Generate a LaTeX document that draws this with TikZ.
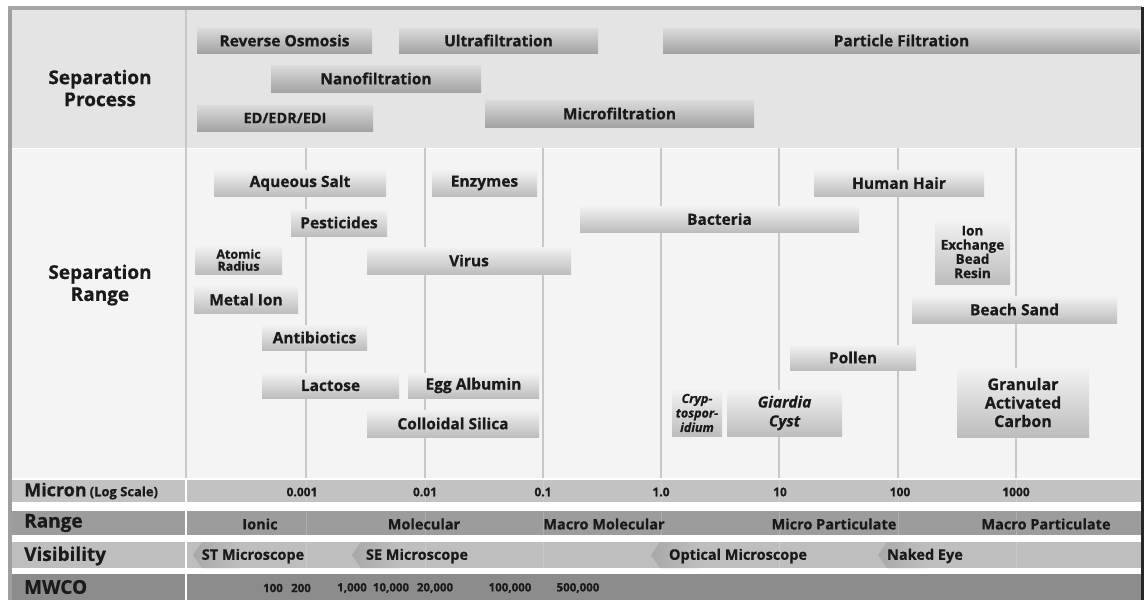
\documentclass[tikz,border=0pt]{standalone}
\usepackage{fontspec}
\setmainfont{Open Sans}[BoldFeatures={FakeBold=0.6},BoldItalicFeatures={FakeBold=0.6}]
\definecolor{procbg}{HTML}{E4E4E4}
\definecolor{rangebg}{HTML}{F4F4F4}
\definecolor{micband}{HTML}{C2C2C2}
\definecolor{rngband}{HTML}{9C9C9C}
\definecolor{visband}{HTML}{BEBEBE}
\definecolor{mwband}{HTML}{8C8C8C}
\definecolor{txt}{HTML}{1A1A1A}
\definecolor{gridc}{HTML}{C8C8C8}
\tikzset{
  lbl/.style={font=\bfseries\fontsize{15.5}{18}\selectfont, text=txt, inner sep=0pt, align=center},
  pbar/.style={lbl, top color=gray!28, bottom color=gray!72, draw=none},
  rbar/.style={lbl, top color=gray!10, bottom color=gray!52, draw=none},
  bandtxt/.style={font=\bfseries\fontsize{14.5}{16}\selectfont, text=txt, inner sep=0pt},
  mictxt/.style={font=\bfseries\fontsize{12}{14}\selectfont, text=txt, inner sep=0pt},
  sidetxt/.style={font=\bfseries\fontsize{19}{21}\selectfont, text=txt, inner sep=0pt, anchor=west},
  mwtxt/.style={font=\bfseries\fontsize{11.5}{13}\selectfont, text=txt, inner sep=0pt},
  gridline/.style={draw=gridc, line width=1.4pt},
  bandgrid/.style={draw=white, line width=1pt, opacity=0.18},
  chev/.style={left color=gray!68, right color=visband, draw=none},
}
% #1 extra, #2 style, #3 name, #4 x1, #5 y1, #6 x2, #7 y2, #8 text
\newcommand\gbox[8][]{\node[#2,minimum width={#6-#4},minimum height={#7-#5},#1] (#3) at ({(#4+#6)/2},{(#5+#7)/2}) {#8};}
\begin{document}
\begin{tikzpicture}[x=1pt,y=-1pt]
\useasboundingbox (0,0) rectangle (1144,605);
\fill[white] (0,0) rectangle (1144,605);
% section backgrounds
\fill[procbg] (12,10) rectangle (1141,148);
\fill[rangebg] (12,148) rectangle (1141,478);
\draw[white, line width=1pt] (12,148) -- (1141,148);
% bands
\fill[white] (12,478) rectangle (1141,600);
\fill[micband] (12,480) rectangle (1141,502);
\fill[rngband] (12,511) rectangle (1141,535);
\fill[visband] (12,542) rectangle (1141,568);
\fill[mwband] (12,574) rectangle (1141,600);
% left column divider
\draw[gridc, line width=1.2pt] (186,10) -- (186,478);
\draw[white, line width=1.2pt] (186,478) -- (186,600);
% grid lines
\foreach \gx in {306,425,543,661,779,898,1016}{
  \draw[gridline] (\gx,148) -- (\gx,478);
  \draw[bandgrid] (\gx,480) -- (\gx,568);
}
% visibility chevrons
\foreach \cx in {193,352,651,878}{
  \path[chev] (\cx,555) -- (\cx+9,542) -- (\cx+48,542) -- (\cx+48,568) -- (\cx+9,568) -- cycle;
}
% frame
\draw[gray!75, line width=4pt] (10,6) -- (10,600);
\draw[gray!70, line width=4pt] (8,8) -- (1142,8);
\draw[black!85, line width=3pt] (1142.5,7) -- (1142.5,600);
% side labels
\node[lbl, font=\bfseries\fontsize{19}{22}\selectfont] (sp) at (100,88) {Separation\\Process};
\node[lbl, font=\bfseries\fontsize{19}{22}\selectfont] (sr) at (100,285) {Separation\\Range};
\node[sidetxt, font=\bfseries\fontsize{18}{20}\selectfont] (lmic) at (24,491) {Micron\,{\fontsize{13}{15}\selectfont (Log Scale)}};
\node[sidetxt] (lrng) at (24,523) {Range};
\node[sidetxt] (lvis) at (24,556) {Visibility};
\node[sidetxt] (lmw) at (24,587) {MWCO};
% process bars
\gbox{pbar}{ro}{197}{28}{372}{53}{Reverse Osmosis}
\gbox{pbar}{uf}{399}{28}{598}{53}{Ultrafiltration}
\gbox{pbar}{pf}{663}{28}{1140}{53}{Particle Filtration}
\gbox{pbar}{nf}{271}{65}{481}{92}{Nanofiltration}
\gbox[font=\bfseries\fontsize{14.5}{16}\selectfont]{pbar}{ed}{197}{105}{373}{131}{ED/EDR/EDI}
\gbox{pbar}{mf}{485}{100}{754}{127}{Microfiltration}
% range bars
\gbox{rbar}{aq}{214}{170}{386}{196}{Aqueous Salt}
\gbox{rbar}{enz}{432}{170}{537}{196}{Enzymes}
\gbox{rbar}{hh}{814}{170}{984}{196}{Human Hair}
\gbox{rbar}{pest}{291}{209}{387}{236}{Pesticides}
\gbox{rbar}{bac}{580}{206}{859}{232}{Bacteria}
\gbox[font=\bfseries\fontsize{12.5}{12}\selectfont]{rbar}{ar}{195}{246}{282}{274}{Atomic\\Radius}
\gbox{rbar}{vir}{367}{247}{571}{274}{Virus}
\gbox[font=\bfseries\fontsize{13.5}{14.2}\selectfont]{rbar}{ion}{935}{220}{1010}{284}{Ion\\Exchange\\Bead\\Resin}
\gbox{rbar}{met}{194}{286}{298}{313}{Metal Ion}
\gbox{rbar}{bs}{912}{296}{1117}{323}{Beach Sand}
\gbox{rbar}{anti}{262}{325}{367}{350}{Antibiotics}
\gbox{rbar}{pol}{790}{345}{916}{370}{Pollen}
\gbox{rbar}{lac}{262}{373}{399}{398}{Lactose}
\gbox{rbar}{egg}{408}{373}{539}{398}{Egg Albumin}
\gbox[font=\bfseries\itshape\fontsize{12.5}{14.5}\selectfont]{rbar}{cry}{672}{390}{722}{436}{Cryp-\\tospor-\\idium}
\gbox[font=\bfseries\itshape\fontsize{15.5}{19}\selectfont]{rbar}{gia}{727}{390}{842}{436}{Giardia\\Cyst}
\gbox[font=\bfseries\fontsize{16}{18.5}\selectfont]{rbar}{gac}{957}{368}{1089}{437}{Granular\\Activated\\Carbon}
\gbox{rbar}{col}{367}{410}{539}{437}{Colloidal Silica}
% micron values
\node[mictxt] (m1) at (302,492) {0.001};
\node[mictxt] (m2) at (425,492) {0.01};
\node[mictxt] (m3) at (543,492) {0.1};
\node[mictxt] (m4) at (661,492) {1.0};
\node[mictxt] (m5) at (780,492) {10};
\node[mictxt] (m6) at (900,492) {100};
\node[mictxt] (m7) at (1016,492) {1000};
% range values
\node[bandtxt] (r1) at (260,524) {Ionic};
\node[bandtxt] (r2) at (424,524) {Molecular};
\node[bandtxt] (r3) at (604,524) {Macro Molecular};
\node[bandtxt] (r4) at (834,524) {Micro Particulate};
\node[bandtxt] (r5) at (1046,524) {Macro Particulate};
% visibility values
\node[bandtxt] (v1) at (253,556) {ST Microscope};
\node[bandtxt] (v2) at (417,556) {SE Microscope};
\node[bandtxt] (v3) at (738,556) {Optical Microscope};
\node[bandtxt] (v4) at (925,556) {Naked Eye};
% MWCO values
\node[mwtxt] (w1) at (273,588) {100};
\node[mwtxt] (w2) at (301,588) {200};
\node[mwtxt] (w3) at (352,588) {1,000};
\node[mwtxt] (w4) at (391,588) {10,000};
\node[mwtxt] (w5) at (435,588) {20,000};
\node[mwtxt] (w6) at (510,588) {100,000};
\node[mwtxt] (w7) at (578,588) {500,000};
\end{tikzpicture}
\end{document}
